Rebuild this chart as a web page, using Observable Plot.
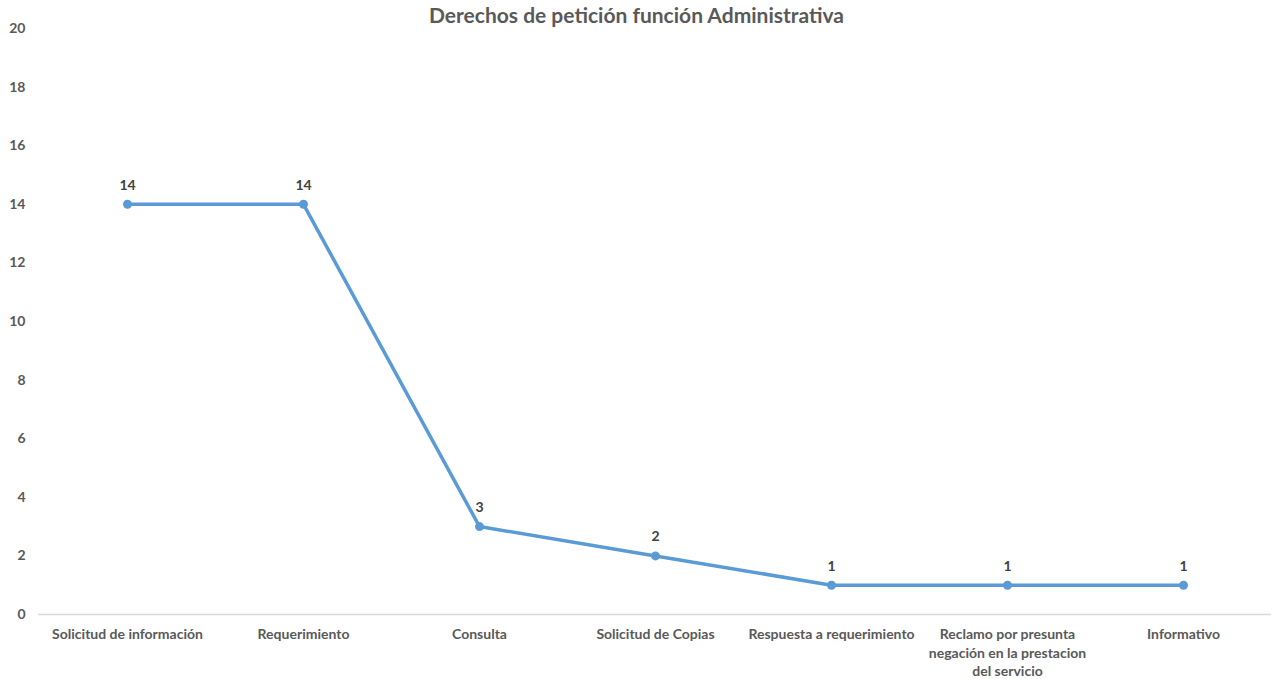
<!DOCTYPE html>
<html>
<head>
<meta charset="utf-8">
<script src="https://cdn.jsdelivr.net/npm/d3@7"></script>
<script src="https://cdn.jsdelivr.net/npm/@observablehq/plot@0.6"></script>
<style>
  body { margin: 0; background: #fff; }
  #wrap { position: relative; width: 1273px; height: 679px; }
  #title { position: absolute; top: 2px; left: 0; width: 100%; text-align: center;
    font: bold 21px Lato, sans-serif; color: #595959; }
</style>
</head>
<body>
<div id="wrap">
  <div id="chart"></div>
  <div id="title">Derechos de petición función Administrativa</div>
</div>
<script>
const categories = [
  "Solicitud de información",
  "Requerimiento",
  "Consulta",
  "Solicitud de Copias",
  "Respuesta a requerimiento",
  "Reclamo por presunta\nnegación en la prestacion\ndel servicio",
  "Informativo"
];
const values = [14, 14, 3, 2, 1, 1, 1];
const yTicks = [0, 2, 4, 6, 8, 10, 12, 14, 16, 18, 20];

const data = categories.map((c, i) => ({cat: c, value: values[i]}));

const chart = Plot.plot({
  width: 1273,
  height: 679,
  marginTop: 28,
  marginBottom: 65,
  marginLeft: 38,
  marginRight: 2,
  style: {fontFamily: "Lato, sans-serif", fontSize: "14px", fontWeight: "bold", color: "#595959", background: "#fff", overflow: "visible"},
  x: {type: "point", domain: categories, padding: 0.5, label: null},
  y: {domain: [0, 20], label: null},
  marks: [
    Plot.axisY({ticks: yTicks, tickSize: 0, tickPadding: 13, label: null, fill: "#595959", fontSize: 14}),
    Plot.axisX({tickSize: 0, tickPadding: 12, label: null, fill: "#595959", fontSize: 14, lineHeight: 1.3}),
    Plot.ruleY([0], {stroke: "#d9d9d9", strokeWidth: 1.3}),
    Plot.line(data, {x: "cat", y: "value", stroke: "#5b9bd5", strokeWidth: 3.5}),
    Plot.dot(data, {x: "cat", y: "value", r: 4.5, fill: "#5b9bd5", stroke: "none"}),
    Plot.text(data, {x: "cat", y: "value", text: d => String(d.value), dy: -19, fill: "#404040", fontSize: 14, fontWeight: "bold"})
  ]
});
document.getElementById("chart").appendChild(chart);
</script>
</body>
</html>
